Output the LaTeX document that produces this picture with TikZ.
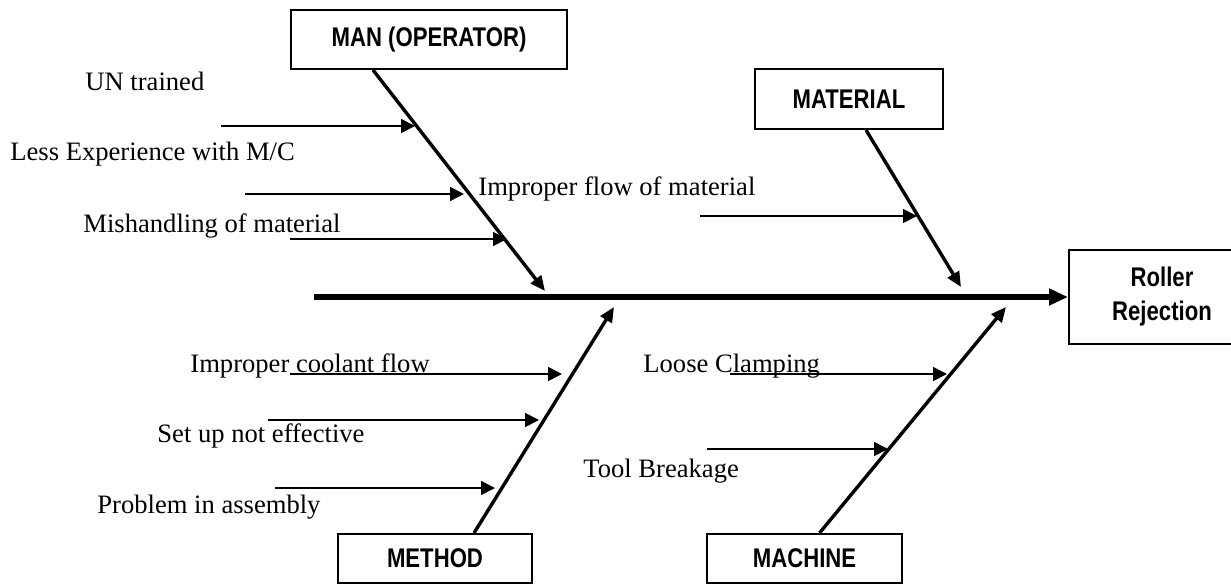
\documentclass[tikz,border=0pt]{standalone}
\usepackage{fontspec}
\setmainfont{Liberation Serif}
\newfontfamily\boxfont[FakeStretch=0.82]{Liberation Sans}
\usetikzlibrary{arrows.meta,calc}

\begin{document}
\begin{tikzpicture}[x=0.5pt,y=-0.5pt,
  cat/.style={draw,line width=1pt,inner sep=0pt,align=center,font=\boxfont\bfseries\fontsize{13.5pt}{17pt}\selectfont},
  cause/.style={inner sep=0pt,anchor=base west,font=\fontsize{13.3pt}{16pt}\selectfont},
  spine/.style={line width=3pt,-{Triangle[length=9.5pt,width=8pt]}},
  bone/.style={line width=1.7pt,-{Triangle[length=7.5pt,width=6.5pt]}},
  twig/.style={line width=0.85pt,-{Triangle[length=7pt,width=7pt]}}]
\useasboundingbox (0,0) rectangle (1231,584);
\node[cat,minimum width=138pt,minimum height=29.5pt] (man) at (429,39.5) {MAN (OPERATOR)};
\node[cat,minimum width=94pt,minimum height=30pt] (mat) at (849,99) {MATERIAL};
\node[cat,minimum width=93pt,minimum height=47pt] (rej) at (1162,297) {Roller\\Rejection};
\node[cat,minimum width=97pt,minimum height=24.5pt] (meth) at (435,558.5) {METHOD};
\node[cat,minimum width=97.5pt,minimum height=24.5pt] (mach) at (804.5,558.5) {MACHINE};
\node[cause] (untr) at (85,90) {UN trained};
\node[cause] (lessexp) at (10,160) {Less Experience with M/C};
\node[cause] (mishand) at (83,232) {Mishandling of material};
\node[cause] (flow) at (478,195) {Improper flow of material};
\node[cause] (coolant) at (190,372) {Improper coolant flow};
\node[cause] (setup) at (157,442) {Set up not effective};
\node[cause] (assembly) at (97,513) {Problem in assembly};
\node[cause] (clamp) at (643,372) {Loose Clamping};
\node[cause] (toolbrk) at (583,477) {Tool Breakage};
\coordinate (tail) at (314,297);
\coordinate (manhit) at (545,291); \coordinate (mathit) at (961,287);
\coordinate (methhit) at (614,307); \coordinate (machhit) at (1006,307);
\draw[spine] (tail) -- (rej.west);
\draw[bone] ($(man.south)+(-56,0)$) -- (manhit);
\draw[bone] ($(mat.south)+(17,0)$) -- (mathit);
\draw[bone] ($(meth.north)+(39,0)$) -- (methhit);
\draw[bone] ($(mach.north)+(15,0)$) -- (machhit);
\coordinate (a0) at (221,126); \coordinate (a1) at (415,126);
\coordinate (b0) at (245,194); \coordinate (b1) at (464,194);
\coordinate (c0) at (290,239); \coordinate (c1) at (507,239);
\coordinate (d0) at (700,216); \coordinate (d1) at (917,216);
\coordinate (e0) at (290,374); \coordinate (e1) at (562,374);
\coordinate (f0) at (268,420); \coordinate (f1) at (539,420);
\coordinate (g0) at (275,488); \coordinate (g1) at (495,488);
\coordinate (h0) at (730,374); \coordinate (h1) at (947,374);
\coordinate (k0) at (707,449); \coordinate (k1) at (888,449);
\draw[twig] (a0) -- (a1); \draw[twig] (b0) -- (b1); \draw[twig] (c0) -- (c1);
\draw[twig] (d0) -- (d1);
\draw[twig] (e0) -- (e1); \draw[twig] (f0) -- (f1); \draw[twig] (g0) -- (g1);
\draw[twig] (h0) -- (h1); \draw[twig] (k0) -- (k1);
\end{tikzpicture}
\end{document}
